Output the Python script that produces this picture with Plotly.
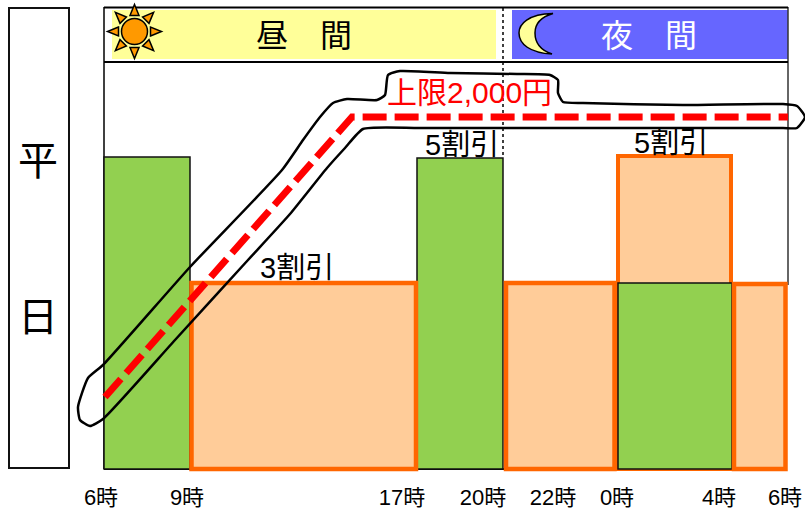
import math
import plotly.graph_objects as go

FONT = "Liberation Sans, Arial, Noto Sans CJK JP, sans-serif"
BASE_PX = 469

def y(px):
    return BASE_PX - px

# Data, in chart units (x = position along the time strip, y = height above the baseline)
green_start = [104, 417, 618]
green_end = [190, 503, 732]
green_height = [312, 311, 186]
orange_top_start = [618]
orange_top_end = [731]
orange_top_height = [313]
orange_start = [191.5, 506, 734]
orange_end = [416, 614.5, 785.5]
orange_height = [186, 186, 185]
limit_x = [105, 352, 788]
limit_y = [72, 352, 352]
tick_pos = [101, 187, 402, 483, 553, 617, 719, 785]
tick_text = ["6時", "9時", "17時", "20時", "22時", "0時", "4時", "6時"]
outline_x = [103, 88, 78, 80, 90, 103, 175, 248, 290, 327, 345, 363, 420, 600, 783, 797, 805, 797, 783,
             683, 583, 563, 558, 558, 550, 517, 450, 400, 388, 385, 377, 347, 333, 320, 303, 282, 190, 103]
outline_y = [104, 91, 62, 49, 43, 50, 129, 209, 255, 301, 321, 340, 341, 341, 341, 341, 352, 363, 365,
             364, 366, 367, 376, 389, 394, 395, 396, 398, 394, 374, 369, 370, 366, 352, 329, 299, 202, 104]


def bars(starts, ends, heights, fill, edge, lw):
    return go.Bar(
        x=[(a + b) / 2 for a, b in zip(starts, ends)],
        y=heights,
        width=[b - a for a, b in zip(starts, ends)],
        marker=dict(color=fill, line=dict(color=edge, width=lw)),
        hoverinfo="skip",
    )


fig = go.Figure()
fig.add_trace(bars(orange_top_start, orange_top_end, orange_top_height, "#FFCC99", "#FF6600", 4))
fig.add_trace(bars(green_start, green_end, green_height, "#92D050", "#111111", 1.5))
fig.add_trace(bars(orange_start, orange_end, orange_height, "#FFCC99", "#FF6600", 4.5))
fig.add_trace(go.Scatter(x=outline_x, y=outline_y, mode="lines", cliponaxis=False, hoverinfo="skip",
                         line=dict(color="black", width=2.5, shape="spline", smoothing=0.5)))
fig.add_trace(go.Scatter(x=limit_x, y=limit_y, mode="lines", cliponaxis=False, hoverinfo="skip",
                         line=dict(color="#FF0000", width=7, dash="24px,8px")))

shapes = []


def rect(x0, x1, top, bottom, fill="rgba(0,0,0,0)", lc="rgba(0,0,0,0)", lw=0, layer="below"):
    shapes.append(dict(type="rect", x0=x0, x1=x1, y0=y(bottom), y1=y(top), fillcolor=fill,
                       line=dict(color=lc, width=lw), layer=layer))


def line(x0, top, x1, bottom, lc="black", lw=2, dash="solid", layer="above"):
    shapes.append(dict(type="line", x0=x0, x1=x1, y0=y(top), y1=y(bottom),
                       line=dict(color=lc, width=lw, dash=dash), layer=layer))


rect(9, 69, 8, 468, fill="white", lc="#111111", lw=2)
rect(112, 496, 10, 59, fill="#FFFF99")
rect(512, 788, 10, 59, fill="#6666FF")
line(104, 7.5, 788, 7.5, lw=2)
line(104, 62, 788, 62, lw=2)
line(104, 7, 104, 469, lw=1.5, layer="below")
line(788, 7, 788, 285, lc="#333333", lw=1.5, layer="below")
line(104, 469, 787, 469, lw=2, layer="below")
line(503, 8, 503, 157, lw=1.5, dash="dot", layer="below")

# sun
cx, cy = 134.5, 31.5
for k in range(8):
    a = k * math.pi / 4
    ux, uy = math.cos(a), math.sin(a)
    px, py = -uy, ux
    r0, r1, hw = 16, 27, 4.5
    pts = [(cx + ux * r0 + px * hw, cy + uy * r0 + py * hw),
           (cx + ux * r1, cy + uy * r1),
           (cx + ux * r0 - px * hw, cy + uy * r0 - py * hw)]
    d = "M " + " L ".join(f"{p[0]:.1f},{y(p[1]):.1f}" for p in pts) + " Z"
    shapes.append(dict(type="path", path=d, fillcolor="#FF9900", line=dict(color="black", width=1.5), layer="above"))
shapes.append(dict(type="circle", x0=cx - 13, x1=cx + 13, y0=y(cy + 13), y1=y(cy - 13),
                   fillcolor="#FF9900", line=dict(color="black", width=1.5), layer="above"))

# moon
moon = (f"M 553,{y(13.5)} C 528,{y(14)} 519,{y(24)} 519,{y(33)} C 519,{y(44)} 530,{y(53)} 552,{y(54)} "
        f"C 540,{y(50)} 535,{y(42)} 535,{y(33)} C 535,{y(24)} 541,{y(17)} 553,{y(13.5)} Z")
shapes.append(dict(type="path", path=moon, fillcolor="#FFFF99", line=dict(color="black", width=1.5), layer="above"))


def label(text, x0, ypx, size, color="black"):
    return dict(text=text, x=x0, y=y(ypx), xref="x", yref="y", showarrow=False,
                xanchor="center", yanchor="middle", font=dict(family=FONT, size=size, color=color))


annotations = [
    label("平", 38, 161, 40),
    label("日", 38, 317, 40),
    label("昼　間", 304, 36, 32),
    label("夜　間", 649, 36, 32, "white"),
    label("上限2,000円", 469, 92, 30, "#FF0000"),
    label("5割引", 462, 145, 29),
    label("5割引", 671, 143, 29),
    label("3割引", 297, 268, 29),
]

fig.update_layout(
    width=805, height=511, margin=dict(l=0, r=0, t=0, b=0, autoexpand=False),
    paper_bgcolor="white", plot_bgcolor="white", showlegend=False, barmode="overlay",
    shapes=shapes, annotations=annotations,
    font=dict(family=FONT),
    xaxis=dict(range=[0, 805], anchor="free", position=42 / 511, showgrid=False, zeroline=False,
               showline=False, tickmode="array", tickvals=tick_pos, ticktext=tick_text, tickangle=0,
               automargin=False, ticks="outside", ticklen=9, tickcolor="rgba(0,0,0,0)", tickwidth=1,
               tickfont=dict(family=FONT, size=22, color="black")),
    yaxis=dict(range=[-42, 469], domain=[0, 1], showgrid=False, zeroline=False, showticklabels=False,
               ticks="", showline=False, automargin=False),
)
fig.write_html("out.html", config=dict(displayModeBar=False),
               post_script="document.body.style.margin='0';document.documentElement.style.overflow='hidden';")
